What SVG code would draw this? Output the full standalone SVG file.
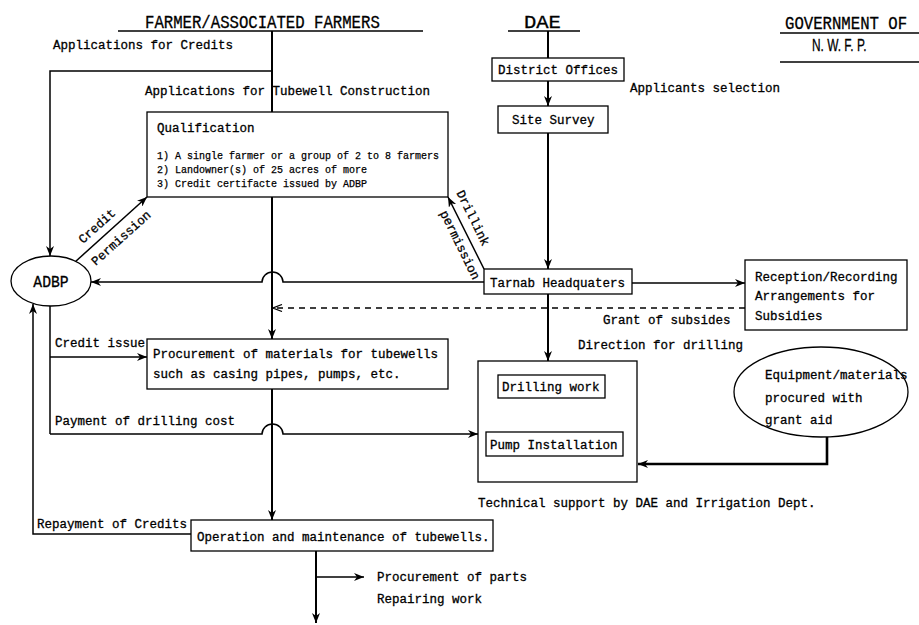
<svg xmlns="http://www.w3.org/2000/svg" width="919" height="625" viewBox="0 0 919 625">
<style>
.t{font-family:"Liberation Mono","DejaVu Sans Mono",monospace;font-size:12.5px;fill:#000;stroke:#000;stroke-width:0.3}
.s{font-size:10px;stroke-width:0.25}
.h{font-size:18px}
.big{font-size:16px}
.hs{font-family:"Liberation Sans","DejaVu Sans",sans-serif;font-size:17px;fill:#000;stroke:#000;stroke-width:0.3}
.box{fill:#fff;stroke:#000;stroke-width:1.3}
.ln{fill:none;stroke:#000;stroke-width:1.5}
.tk{stroke-width:2}
.tk3{stroke-width:2.6}
.ds{stroke-dasharray:6 5}
</style>
<defs>
<marker id="arr" viewBox="0 0 10 8" refX="10" refY="4" markerWidth="10" markerHeight="8" markerUnits="userSpaceOnUse" orient="auto">
<path d="M0,0 L10,4 L0,8 L3,4 z" fill="#000"/>
</marker>
<marker id="open" viewBox="0 0 10 8" refX="10" refY="4" markerWidth="10" markerHeight="8" markerUnits="userSpaceOnUse" orient="auto">
<path d="M1,0.5 L10,4 L1,7.5" fill="none" stroke="#000" stroke-width="1.2"/>
</marker>
</defs>
<rect width="919" height="625" fill="#fff"/>

<g id="headers">
<text class="t h" transform="translate(145,28) scale(0.87,1)">FARMER/ASSOCIATED FARMERS</text>
<line class="ln" x1="118" y1="31" x2="423" y2="31" stroke-width="1.2"/>
<text class="t h" transform="translate(524,28) scale(1.14,1)">DAE</text>
<line class="ln" x1="508" y1="31" x2="580" y2="31" stroke-width="1.2"/>
<text class="t h" transform="translate(785,29) scale(0.87,1)">GOVERNMENT OF</text>
<line class="ln" x1="780" y1="33" x2="919" y2="33" stroke-width="1.2"/>
<text class="hs" transform="translate(812,51) scale(0.7,1)">N. W. F. P.</text>
<line class="ln" x1="780" y1="62" x2="919" y2="62" stroke-width="1.2"/>
</g>

<g id="connectors">
<line class="ln tk" x1="272" y1="31" x2="272" y2="112"/>
<line class="ln tk" x1="272" y1="197" x2="272" y2="339" marker-end="url(#arr)"/>
<line class="ln tk" x1="272" y1="389" x2="272" y2="520" marker-end="url(#arr)"/>
<path class="ln" d="M272,71 H50 V256" marker-end="url(#arr)"/>
<line class="ln" x1="75" y1="262" x2="147" y2="197" marker-end="url(#arr)"/>
<line class="ln" x1="484" y1="269" x2="448" y2="197" marker-end="url(#arr)"/>
<path class="ln" d="M484,282 H283 A10.5,10 0 0 0 262,282 H91" marker-end="url(#arr)"/>
<line class="ln" x1="632" y1="283" x2="745" y2="283" marker-end="url(#arr)"/>
<line class="ln ds" x1="745" y1="308" x2="273" y2="308" marker-end="url(#open)"/>
<line class="ln tk" x1="548" y1="31" x2="548" y2="58"/>
<line class="ln tk" x1="548" y1="81" x2="548" y2="106" marker-end="url(#arr)"/>
<line class="ln tk" x1="548" y1="133" x2="548" y2="269" marker-end="url(#arr)"/>
<line class="ln tk" x1="548" y1="294" x2="548" y2="361" marker-end="url(#arr)"/>
<line class="ln tk" x1="548" y1="398" x2="548" y2="432" marker-end="url(#arr)"/>
<line class="ln" x1="50" y1="306" x2="50" y2="434"/>
<line class="ln" x1="50" y1="357" x2="147" y2="357" marker-end="url(#arr)"/>
<path class="ln" d="M50,434 H262 A10.5,10 0 0 1 283,434 H478" marker-end="url(#arr)"/>
<path class="ln" d="M191,534 H33 V304" marker-end="url(#arr)"/>
<path class="ln tk3" d="M827,437 V464 H638" marker-end="url(#arr)"/>
<line class="ln tk" x1="316" y1="551" x2="316" y2="623" marker-end="url(#arr)"/>
<line class="ln" x1="316" y1="577" x2="364" y2="577" marker-end="url(#arr)"/>
</g>

<g id="labels">
<text class="t" x="53" y="49">Applications for Credits</text>
<text class="t" x="145" y="95">Applications for Tubewell Construction</text>
<text class="t" x="630" y="92">Applicants selection</text>
<text class="t" transform="translate(97,226) rotate(-42)" text-anchor="middle" y="4">Credit</text>
<text class="t" transform="translate(121,238) rotate(-42)" text-anchor="middle" y="4">Permission</text>
<text class="t" transform="translate(473,218) rotate(63.8)" text-anchor="middle" y="4">Drillink</text>
<text class="t" transform="translate(460,245) rotate(63.8)" text-anchor="middle" y="4">permission</text>
<text class="t" x="603" y="324">Grant of subsides</text>
<text class="t" x="578" y="349">Direction for drilling</text>
<text class="t" x="55" y="347">Credit issue</text>
<text class="t" x="55" y="425">Payment of drilling cost</text>
<text class="t" x="478" y="507">Technical support by DAE and Irrigation Dept.</text>
<text class="t" x="37" y="528">Repayment of Credits</text>
<text class="t" x="377" y="581">Procurement of parts</text>
<text class="t" x="377" y="603">Repairing work</text>
</g>

<g id="qualification">
<rect class="box" x="147" y="112" width="301" height="85"/>
<text class="t" x="157" y="132">Qualification</text>
<text class="t s" x="157" y="159">1) A single farmer or a group of 2 to 8 farmers</text>
<text class="t s" x="157" y="173">2) Landowner(s) of 25 acres of more</text>
<text class="t s" x="157" y="187">3) Credit certifacte issued by ADBP</text>
</g>

<g id="adbp">
<ellipse class="box" cx="51" cy="281" rx="40" ry="25"/>
<text class="t big" transform="translate(51,287) scale(0.92,1)" text-anchor="middle">ADBP</text>
</g>

<g id="procurement">
<rect class="box" x="147" y="339" width="301" height="50"/>
<text class="t" x="153" y="358">Procurement of materials for tubewells</text>
<text class="t" x="153" y="378">such as casing pipes, pumps, etc.</text>
</g>

<g id="operation">
<rect class="box" x="191" y="520" width="302" height="31"/>
<text class="t" x="197" y="541">Operation and maintenance of tubewells.</text>
</g>

<g id="district-offices">
<rect class="box" x="492" y="58" width="132" height="23"/>
<text class="t" x="498" y="74">District Offices</text>
</g>

<g id="site-survey">
<rect class="box" x="498" y="106" width="110" height="27"/>
<text class="t" x="512" y="124">Site Survey</text>
</g>

<g id="tarnab">
<rect class="box" x="484" y="269" width="148" height="25"/>
<text class="t" x="490" y="287">Tarnab Headquaters</text>
</g>

<g id="reception">
<rect class="box" x="745" y="260" width="162" height="70"/>
<text class="t" x="755" y="281">Reception/Recording</text>
<text class="t" x="755" y="300">Arrangements for</text>
<text class="t" x="755" y="320">Subsidies</text>
</g>

<g id="drilling-site">
<rect class="box" x="478" y="361" width="159" height="121"/>
</g>

<g id="drilling-work">
<rect class="box" x="498" y="375" width="107" height="23"/>
<text class="t" x="502" y="391">Drilling work</text>
</g>

<g id="pump-installation">
<rect class="box" x="486" y="432" width="137" height="24"/>
<text class="t" x="490" y="449">Pump Installation</text>
</g>

<g id="equipment">
<ellipse class="box" cx="821" cy="392" rx="87" ry="45"/>
<text class="t" x="765" y="379">Equipment/materials</text>
<text class="t" x="765" y="402">procured with</text>
<text class="t" x="765" y="424">grant aid</text>
</g>
</svg>
